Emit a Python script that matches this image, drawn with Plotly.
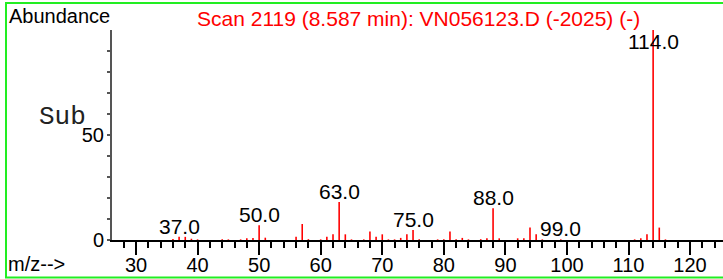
import plotly.graph_objects as go

# ---- data ----
mz = [36, 37, 38, 39, 40, 44, 45, 47, 48, 49, 50, 51, 56, 57, 58, 60, 61, 62, 63, 64,
      65, 67, 68, 69, 70, 71, 72, 73, 74, 75, 76, 79, 80, 81, 82, 83, 84, 86, 87, 88,
      89, 92, 93, 94, 95, 96, 99, 111, 112, 113, 114, 115, 116]
abundance = [0.5, 1.5, 1.5, 0.6, 0.3, 0.3, 0.3, 0.3, 0.8, 0.9, 7.0, 1.1, 1.6, 7.6, 0.4, 0.3, 1.6, 2.7, 18.1, 2.7,
             0.3, 0.3, 4.1, 1.6, 2.7, 0.3, 0.3, 1.0, 2.7, 4.8, 0.3, 0.3, 0.3, 4.1, 0.3, 1.0, 0.3, 0.4, 0.8, 15.1,
             0.8, 0.8, 0.8, 5.9, 2.7, 0.3, 0.3, 0.3, 0.8, 2.7, 100.0, 5.9, 0.3]
labeled_mz = [37, 50, 63, 75, 88, 99, 114]
x_tick_vals = [30, 40, 50, 60, 70, 80, 90, 100, 110, 120]
y_tick_vals = [0, 50]
y_tick_text = ["0", "50"]
title_text = "Scan 2119 (8.587 min): VN056123.D (-2025) (-)"
y_label = "Abundance"
x_label = "m/z-->"
sub_label = "Sub"

# ---- layout geometry ----
W, H = 723, 279
ML, MR, MT, MB = 112, 0, 30, 39
PW, PH = W - ML - MR, H - MT - MB
X_RANGE = [26.1, 125.35]
Y_RANGE = [0, 99.9]


def px(x):
    return (x - ML) / PW


def py(y):
    return (H - MB - y) / PH


FONT = "Liberation Sans, Arial, sans-serif"

xs, ys = [], []
for m, a in zip(mz, abundance):
    xs += [m, m, None]
    ys += [0, a, None]

fig = go.Figure()
fig.add_trace(go.Scatter(x=xs, y=ys, mode="lines",
                         line=dict(color="#ff0000", width=1.6),
                         hoverinfo="skip", showlegend=False))

annotations = []
for m in labeled_mz:
    a = abundance[mz.index(m)]
    if a > 80:
        annotations.append(dict(x=m, y=Y_RANGE[1], xref="x", yref="y", text=f"{m:.1f}",
                                showarrow=False, xanchor="center", yanchor="top",
                                yshift=2, font=dict(family=FONT, size=21, color="black")))
    else:
        annotations.append(dict(x=m, y=a, xref="x", yref="y", text=f"{m:.1f}",
                                showarrow=False, xanchor="center", yanchor="bottom",
                                yshift=-3, font=dict(family=FONT, size=21, color="black")))

annotations += [
    dict(x=px(7), y=py(16), xref="paper", yref="paper", text=y_label, showarrow=False,
         xanchor="left", yanchor="middle", font=dict(family=FONT, size=20, color="black")),
    dict(x=px(418.5), y=py(19), xref="paper", yref="paper", text=title_text, showarrow=False,
         xanchor="center", yanchor="middle", font=dict(family=FONT, size=21, color="#ff0000")),
    dict(x=px(37), y=py(117), xref="paper", yref="paper", text=sub_label, showarrow=False,
         xanchor="left", yanchor="middle",
         font=dict(family="Liberation Mono, Courier New, monospace", size=26, color="#222222")),
    dict(x=px(6), y=py(264), xref="paper", yref="paper", text=x_label, showarrow=False,
         xanchor="left", yanchor="middle", font=dict(family=FONT, size=20, color="black")),
]

fig.update_layout(
    width=W, height=H,
    margin=dict(l=ML, r=MR, t=MT, b=MB, pad=0),
    paper_bgcolor="white", plot_bgcolor="white",
    showlegend=False,
    font=dict(family=FONT, size=20, color="black"),
    annotations=annotations,
    shapes=[dict(type="rect", xref="paper", yref="paper",
                 x0=px(6), x1=px(740), y0=py(277.5), y1=py(3),
                 line=dict(color="#22ee22", width=2), fillcolor="rgba(0,0,0,0)")],
    xaxis=dict(range=X_RANGE, tickmode="array", tickvals=x_tick_vals,
               ticks="outside", ticklen=13, tickwidth=1.5, tickcolor="black",
               showline=True, linecolor="black", linewidth=2,
               showgrid=False, zeroline=False, ticklabelstandoff=-7,
               tickfont=dict(family=FONT, size=20, color="black"),
               minor=dict(tickmode="linear", tick0=0, dtick=2, ticks="outside",
                          ticklen=6, tickwidth=1.5, tickcolor="black", showgrid=False)),
    yaxis=dict(range=Y_RANGE, tickmode="array", tickvals=y_tick_vals, ticktext=y_tick_text,
               ticks="outside", ticklen=3, tickwidth=1.5, tickcolor="#555555",
               showline=True, linecolor="#555555", linewidth=2,
               showgrid=False, zeroline=False, ticklabelstandoff=-1,
               tickfont=dict(family=FONT, size=20, color="black"),
               minor=dict(tickmode="linear", tick0=0, dtick=10, ticks="outside",
                          ticklen=3, tickwidth=1.5, tickcolor="#555555", showgrid=False)),
)

fig.write_html("out.html", config={"displayModeBar": False},
               post_script="document.body.style.margin='0';document.body.style.padding='0';")
